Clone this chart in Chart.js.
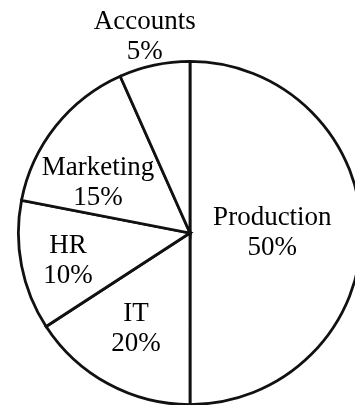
<!DOCTYPE html>
<html>
<head>
<meta charset="utf-8">
<script src="https://cdn.jsdelivr.net/npm/chart.js@4.4.1/dist/chart.umd.min.js"></script>
<style>
  html, body { margin: 0; padding: 0; background: #fff; overflow: hidden; }
  #wrap { position: relative; width: 355px; height: 405px; overflow: hidden; }
  #pie { position: absolute; left: 0; top: 0; }
</style>
</head>
<body>
<div id="wrap"><canvas id="pie" width="380" height="466"></canvas></div>
<script>
// Departamentos, en orden horario desde arriba
const departments = ['Production', 'IT', 'HR', 'Marketing', 'Accounts'];
// Porcentajes escritos en el dibujo
const percentLabels = ['50%', '20%', '10%', '15%', '5%'];
// Tamaño de cada porción tal como está dibujada (grados medidos en la imagen)
const sliceShare = [180, 57, 44, 55, 24];

// Donde va cada etiqueta: fraccion del radio y giro extra (grados)
const labelRadius = [0.48, 0.64, 0.73, 0.61, 1.17];
const labelTurn = [0, 1, -2, -10, -1];

const labelPlugin = {
  id: 'sliceLabels',
  afterDatasetsDraw(chart) {
    const ctx = chart.ctx;
    const arcs = chart.getDatasetMeta(0).data;
    ctx.save();
    ctx.fillStyle = '#000';
    ctx.font = '27px "Liberation Serif", "Times New Roman", serif';
    ctx.textAlign = 'center';
    ctx.textBaseline = 'middle';
    arcs.forEach((arc, i) => {
      const mid = (arc.startAngle + arc.endAngle) / 2 + labelTurn[i] * Math.PI / 180;
      const r = arc.outerRadius * labelRadius[i];
      const x = arc.x + Math.cos(mid) * r;
      const y = arc.y + Math.sin(mid) * r;
      ctx.fillText(departments[i], x, y - 15);
      ctx.fillText(percentLabels[i], x, y + 15);
    });
    ctx.restore();
  }
};

new Chart(document.getElementById('pie'), {
  type: 'pie',
  data: {
    labels: departments,
    datasets: [{
      data: sliceShare,
      backgroundColor: '#ffffff',
      borderColor: '#111111',
      borderWidth: 2.8,
      borderJoinStyle: 'miter'
    }]
  },
  options: {
    responsive: false,
    animation: false,
    layout: { padding: 17 },
    plugins: {
      legend: { display: false },
      tooltip: { enabled: false }
    }
  },
  plugins: [labelPlugin]
});
</script>
</body>
</html>
